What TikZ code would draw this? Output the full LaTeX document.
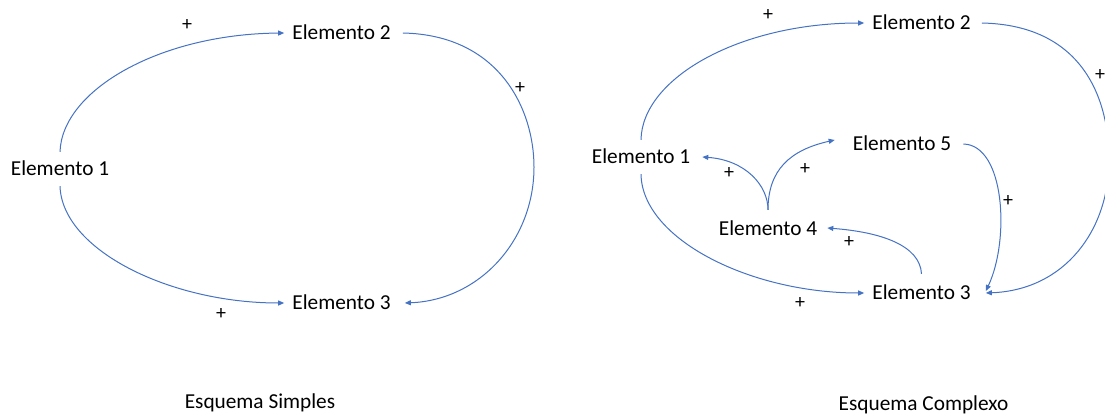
\documentclass[tikz,border=0pt]{standalone}
\usepackage{fontspec}
\setmainfont{Carlito}
\usetikzlibrary{arrows.meta}
\definecolor{linkblue}{HTML}{4472C4}
\begin{document}
\begin{tikzpicture}[x=1pt,y=-1pt,
  elem/.style={inner xsep=8pt,inner ysep=10pt,font=\fontsize{21.3}{25}\selectfont,text height=13.8pt,text depth=0pt,anchor=center},
  captext/.style={inner sep=0pt,font=\fontsize{21.3}{25}\selectfont,text height=13.8pt,text depth=0pt,anchor=center},
  plus/.style={inner sep=0pt,font=\fontsize{20}{24}\selectfont,text height=13pt,text depth=0pt,anchor=center},
  link/.style={draw=linkblue,line width=1pt,-{Triangle[length=6pt,width=5pt]}}]
\useasboundingbox (0,0) rectangle (1105,415);
\clip (0,0) rectangle (1105,415);
% ---- left: Esquema Simples
\node[elem] (l1) at (60,169) {Elemento 1};
\node[elem] (l2) at (341.5,33) {Elemento 2};
\node[elem] (l3) at (341.5,303) {Elemento 3};
\node[captext] (capL) at (260,402) {Esquema Simples};
\draw[link] (l1.north) .. controls (62,90) and (160,34) .. (l2.west);
\draw[link] (l1.south) .. controls (62,250) and (170,303) .. (l3.west);
\draw[link] ([xshift=4pt]l2.east) .. controls (500,35) and (534,110) .. (534,167)
   .. controls (534,240) and (480,300) .. ([xshift=6pt]l3.east);
\node[plus] (pl1) at (187,24) {+};
\node[plus] (pl2) at (520,87) {+};
\node[plus] (pl3) at (221,313) {+};
% ---- right: Esquema Complexo
\node[elem] (r1) at (641,157) {Elemento 1};
\node[elem] (r2) at (921.5,23) {Elemento 2};
\node[elem] (r5) at (902,144) {Elemento 5};
\node[elem] (r4) at (768,229) {Elemento 4};
\node[elem] (r3) at (921.5,293) {Elemento 3};
\node[captext] (capR) at (923.5,404) {Esquema Complexo};
\draw[link] (r1.north) .. controls (642,78) and (740,23) .. (r2.west);
\draw[link] (r1.south) .. controls (642,239) and (750,293) .. (r3.west);
\draw[link] ([xshift=3pt]r2.east) .. controls (1080,25) and (1109,95) .. (1109,160)
   .. controls (1109,230) and (1065,290) .. ([xshift=7pt]r3.east);
\draw[link] ([xshift=4pt]r5.east) .. controls (1005,145) and (1010,240) .. ([xshift=7pt,yshift=2pt]r3.east);
\draw[link] ([yshift=2pt]r4.north) .. controls (768,185) and (745,160) .. ([xshift=4pt]r1.east);
\draw[link] ([yshift=2pt]r4.north) .. controls (768,170) and (790,150) .. ([xshift=-10pt,yshift=4pt]r5.west);
\draw[link] ([yshift=2pt]r3.north) .. controls (920,245) and (880,232) .. ([xshift=2pt,yshift=1pt]r4.east);
\node[plus] (pr1) at (768,14) {+};
\node[plus] (pr2) at (1100,74) {+};
\node[plus] (pr3) at (729,172) {+};
\node[plus] (pr4) at (805,168) {+};
\node[plus] (pr5) at (1008,200) {+};
\node[plus] (pr6) at (849,241) {+};
\node[plus] (pr7) at (800,302) {+};
\end{tikzpicture}
\end{document}
